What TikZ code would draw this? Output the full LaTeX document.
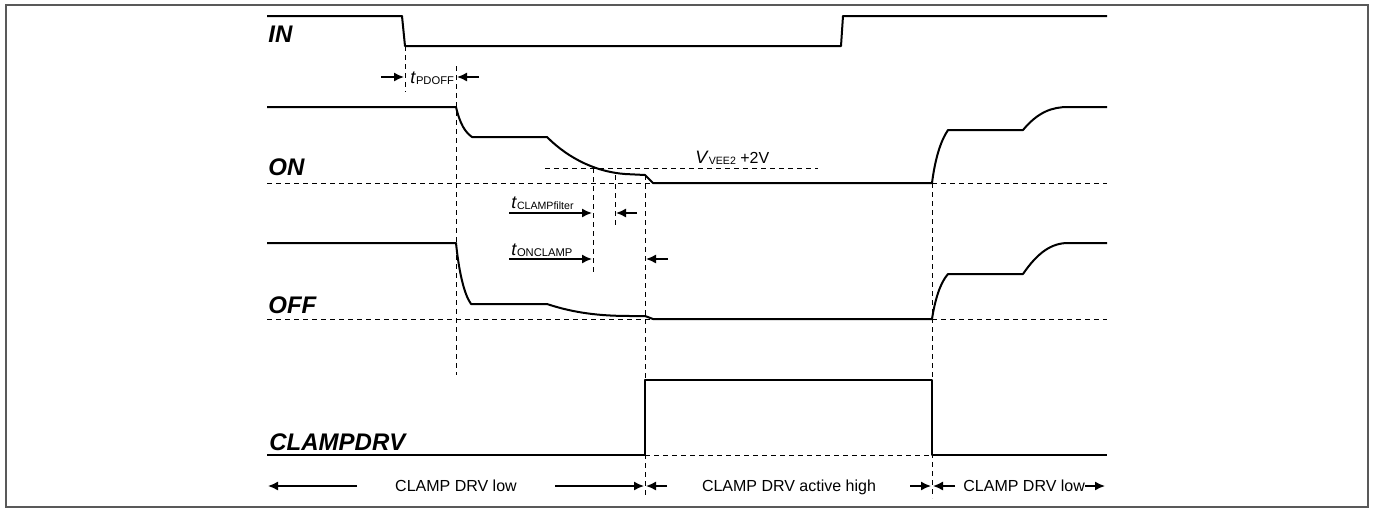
\documentclass[tikz,border=0pt]{standalone}
\usepackage{fontspec}
\setmainfont{Liberation Sans}
\usepackage{tikz}
\usetikzlibrary{arrows.meta}

\tikzset{
  wave/.style={line width=1pt, line join=round},
  guide/.style={line width=0.5pt, dash pattern=on 2.5pt off 2pt},
  siglbl/.style={font=\fontsize{12}{14}\selectfont\bfseries\itshape, inner sep=0pt, anchor=base west},
  note/.style={font=\fontsize{8}{10}\selectfont, inner sep=0pt, anchor=base},
  dim/.style={line width=0.75pt, ->},
}
\newcommand{\tsub}[3]{{\fontsize{9}{10}\selectfont\textit{#1}}\raisebox{-0.6pt}{\fontsize{#3}{6}\selectfont #2}}

\begin{document}
\begin{tikzpicture}[>={Latex[length=5pt,width=4.5pt]}, x=0.5pt, y=-0.5pt]
    % 0. Khung
    \useasboundingbox (0,0) rectangle (1373,509);
    \draw[gray!70!black, line width=1pt] (6,5) rectangle (1368,507);

    % 1. Tên tín hiệu
    \node[siglbl] (lblin)  at (268,42)  {IN};
    \node[siglbl] (lblon)  at (268,175) {ON};
    \node[siglbl] (lbloff) at (268,313) {OFF};
    \node[siglbl] (lblclp) at (269,450) {CLAMPDRV};

    % 2. Đường gióng
    \foreach \x/\ya/\yb in {405/46/92, 456/66/375, 593/168/273, 615/175/228, 645/175/497, 932/183/498} {
        \draw[guide] (\x,\ya) -- (\x,\yb);
    }
    \draw[guide] (545,168) -- (818,168);
    \draw[guide] (267,183) -- (653,183);
    \draw[guide] (932,183) -- (1107,183);
    \draw[guide] (267,319) -- (653,319);
    \draw[guide] (932,319) -- (1107,319);
    \draw[guide] (645,455) -- (932,455);

    % 3. Dạng sóng
    \draw[wave] (267,16) -- (402,16) -- (405,46) -- (841,46) -- (843,16) -- (1107,16);
    \draw[wave] (267,107) -- (456,107) .. controls (460,124) and (465,132) .. (472,137)
        -- (547,137) .. controls (570,160) and (598,172) .. (625,174) -- (645,175) -- (653,183)
        -- (932,183) .. controls (935,160) and (940,142) .. (948,130)
        -- (1023,130) .. controls (1038,112) and (1052,107) .. (1068,107) -- (1107,107);
    \draw[wave] (267,243) -- (456,243) .. controls (459,272) and (464,294) .. (471,304)
        -- (547,304) .. controls (574,313) and (600,316) .. (630,316) -- (645,316) -- (653,319)
        -- (932,319) .. controls (935,300) and (940,283) .. (948,274)
        -- (1023,274) .. controls (1038,252) and (1052,243) .. (1068,243) -- (1107,243);
    \draw[wave] (267,455) -- (645,455) -- (645,380) -- (932,380) -- (932,455) -- (1107,455);

    % 4. Thời gian
    \node[note, anchor=base west] (tpd) at (410,83) {\tsub{t}{PDOFF}{5.6}};
    \node[note, anchor=base west] (tcf) at (511,208) {\tsub{t}{CLAMPfilter}{5.3}};
    \node[note, anchor=base west] (toc) at (511,255) {\tsub{t}{ONCLAMP}{5.6}};
    \node[note, anchor=base west] (vee) at (695,163) {\tsub{V}{VEE2}{5.3} +2V};
    \draw[dim] (381,77) -- (404,77);
    \draw[dim] (479,77) -- (457,77);
    \draw[dim] (509,213) -- (592,213);
    \draw[dim] (637,213) -- (616,213);
    \draw[dim] (509,259) -- (592,259);
    \draw[dim] (668,259) -- (646,259);

    % 5. Trạng thái CLAMP DRV
    \node[note] (low1) at (456,491) {CLAMP DRV low};
    \node[note] (high) at (789,491) {CLAMP DRV active high};
    \node[note, anchor=base west] (low2) at (963,491) {CLAMP DRV low};
    \draw[dim] (357,486) -- (268,486);
    \draw[dim] (555,486) -- (644,486);
    \draw[dim] (667,486) -- (646,486);
    \draw[dim] (910,486) -- (931,486);
    \draw[dim] (955,486) -- (933,486);
    \draw[dim] (low2.east |- 0,486) -- (1105,486);
\end{tikzpicture}
\end{document}
